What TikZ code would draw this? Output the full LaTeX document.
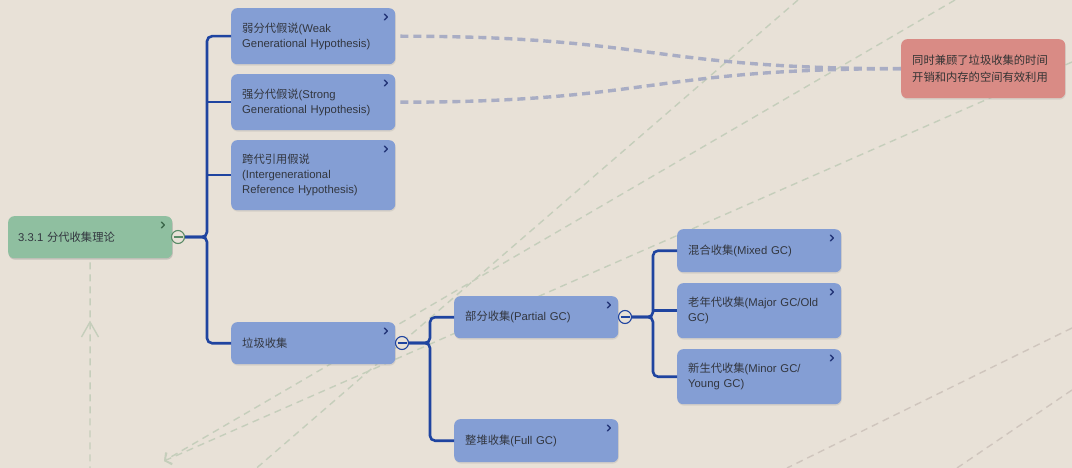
\documentclass[tikz,border=0pt]{standalone}
\usepackage{fontspec}
\setmainfont{Liberation Sans}
\newfontfamily\cjkfont{Noto Sans CJK SC}
\newcommand{\zh}[1]{{\cjkfont #1}}
\usetikzlibrary{arrows.meta,shadows}

\definecolor{paper}{HTML}{E8E1D7}
\definecolor{nodeblue}{HTML}{849ED4}
\definecolor{nodegreen}{HTML}{8FBFA0}
\definecolor{nodered}{HTML}{D98B85}
\definecolor{trunkblue}{HTML}{1F44A0}
\definecolor{foldgreen}{HTML}{5A8A66}
\definecolor{relgray}{HTML}{A9ADC4}
\definecolor{faintgreen}{HTML}{C5CEBB}
\definecolor{faintbrown}{HTML}{CFC5BD}
\definecolor{ink}{HTML}{32363F}
\definecolor{chevblue}{HTML}{26387A}
\definecolor{chevgreen}{HTML}{3F6A4E}

\tikzset{
  box/.style={rectangle, fill=nodeblue, rounded corners=6pt, anchor=north west,
    text width=142pt, inner xsep=11pt, inner ysep=0pt, align=left,
    minimum height=#1, text=ink,
    drop shadow={shadow xshift=0.6pt, shadow yshift=-1.4pt, opacity=0.18}},
  box/.default=42pt,
  chev/.style={line width=1.4pt, line cap=round, line join=round, draw=chevblue},
  fold/.style={circle, draw=#1, fill=paper, line width=1.1pt, minimum size=13pt,
    inner sep=0pt,
    path picture={\draw[#1, line width=1.1pt]
      ([xshift=-4.5pt]path picture bounding box.center) --
      ([xshift=4.5pt]path picture bounding box.center);}},
  trunk/.style={draw=trunkblue, line width=2.6pt, rounded corners=5pt},
  rel/.style={draw=relgray, line width=3.4pt, dash pattern=on 8pt off 5pt},
  bgline/.style={draw=faintgreen, line width=1.4pt, dash pattern=on 7pt off 5pt},
  bgline2/.style={draw=faintbrown, line width=1.4pt, dash pattern=on 7pt off 5pt},
}

\begin{document}
\begin{tikzpicture}[x=1pt, y=-1pt, font=\fontsize{11.3}{15}\selectfont]
  \fill[paper] (0,0) rectangle (1072,468);
  \useasboundingbox (0,0) rectangle (1072,468);

  % faint background links
  \coordinate (l1a) at (798,0);    \coordinate (l1b) at (252,472);
  \coordinate (l2a) at (955,0);    \coordinate (l2b) at (164,461);
  \coordinate (l3a) at (1072,62);  \coordinate (l3b) at (164,461);
  \coordinate (m1a) at (1072,328); \coordinate (m1b) at (787,468);
  \coordinate (m2a) at (1072,390); \coordinate (m2b) at (957,468);
  \coordinate (vbot) at (90,468);  \coordinate (varr) at (90,322);
  \begin{scope}
    \clip (0,0) rectangle (1072,468);
    \draw[bgline] (l1a) -- (l1b);
    \draw[bgline, -{Straight Barb[length=5pt, width=13pt]}] (l2a) -- (l2b);
    \draw[bgline, -{Straight Barb[length=5pt, width=13pt]}] (l3a) -- (l3b);
    \draw[bgline2] (m1a) -- (m1b);
    \draw[bgline2] (m2a) -- (m2b);
  \end{scope}

  % mind map nodes
  \node[box, fill=nodegreen, text width=144pt, inner xsep=10pt,
        drop shadow={shadow xshift=0.6pt, shadow yshift=-1.4pt, opacity=0.18}]
        (root) at (8,216) {3.3.1 \zh{分代收集理论}};

  \draw[bgline, shorten <=4pt] (root.south) -- (vbot);
  \draw[faintgreen, line width=1.4pt] (varr) ++(-8.5,15) -- (varr) -- ++(8.5,15);

  \node[box=56pt] (weak)   at (231,8)   {\zh{弱分代假说}(Weak\\Generational Hypothesis)};
  \node[box=56pt] (strong) at (231,74)  {\zh{强分代假说}(Strong\\Generational Hypothesis)};
  \node[box=70pt] (inter)  at (231,140) {\zh{跨代引用假说}\\(Intergenerational\\Reference Hypothesis)};
  \node[box]      (garbage) at (231,322) {\zh{垃圾收集}};
  \node[box]      (partial) at (454,296) {\zh{部分收集}(Partial GC)};
  \node[box=43pt] (full)    at (454,419) {\zh{整堆收集}(Full GC)};
  \node[box=43pt] (mixed)   at (677,229) {\zh{混合收集}(Mixed GC)};
  \node[box=55pt] (major)   at (677,283) {\zh{老年代收集}(Major GC/Old\\GC)};
  \node[box=55pt] (minor)   at (677,349) {\zh{新生代收集}(Minor GC/\\Young GC)};
  \node[box=59pt, fill=nodered, font=\fontsize{11.3}{16.5}\selectfont, text=black!80]
        (note) at (901,39) {\zh{同时兼顾了垃圾收集的时间}\\\zh{开销和内存的空间有效利用}};

  % expand markers
  \foreach \n in {weak,strong,inter,garbage,partial,full,mixed,major,minor}
    \draw[chev] ([xshift=-11pt,yshift=-6pt]\n.north east) -- ++(3,3) -- ++(-3,3);
  \draw[chev, draw=chevgreen] ([xshift=-11pt,yshift=-6pt]root.north east) -- ++(3,3) -- ++(-3,3);

  % relation curves to the note
  \draw[rel, shorten <=5pt] (weak.east) .. controls +(255,0) and +(-250,0) .. (note.west);
  \draw[rel, shorten <=5pt] (strong.east) .. controls +(255,0) and +(-250,0) .. (note.west);

  % fold buttons
  \node[fold=foldgreen] (c1) at (178,237) {};
  \node[fold=trunkblue] (c2) at (402,343) {};
  \node[fold=trunkblue] (c3) at (625,317) {};

  % branch trunks
  \coordinate (j1) at (207,237);
  \coordinate (j2) at (430,343);
  \coordinate (j3) at (653,317);
  \draw[trunk] (c1.east) -| (j1 |- weak.west) -- (weak.west);
  \draw[trunk] (c1.east) -| (j1 |- garbage.west) -- (garbage.west);
  \draw[trunk] (j1 |- strong.west) -- (strong.west);
  \draw[trunk] (j1 |- inter.west) -- (inter.west);

  \draw[trunk] (c2.east) -| (j2 |- partial.west) -- (partial.west);
  \draw[trunk] (c2.east) -| (j2 |- full.west) -- (full.west);

  \draw[trunk] (c3.east) -| (j3 |- mixed.west) -- (mixed.west);
  \draw[trunk] (c3.east) -| (j3 |- minor.west) -- (minor.west);
  \draw[trunk] (j3 |- major.west) -- (major.west);
\end{tikzpicture}
\end{document}
